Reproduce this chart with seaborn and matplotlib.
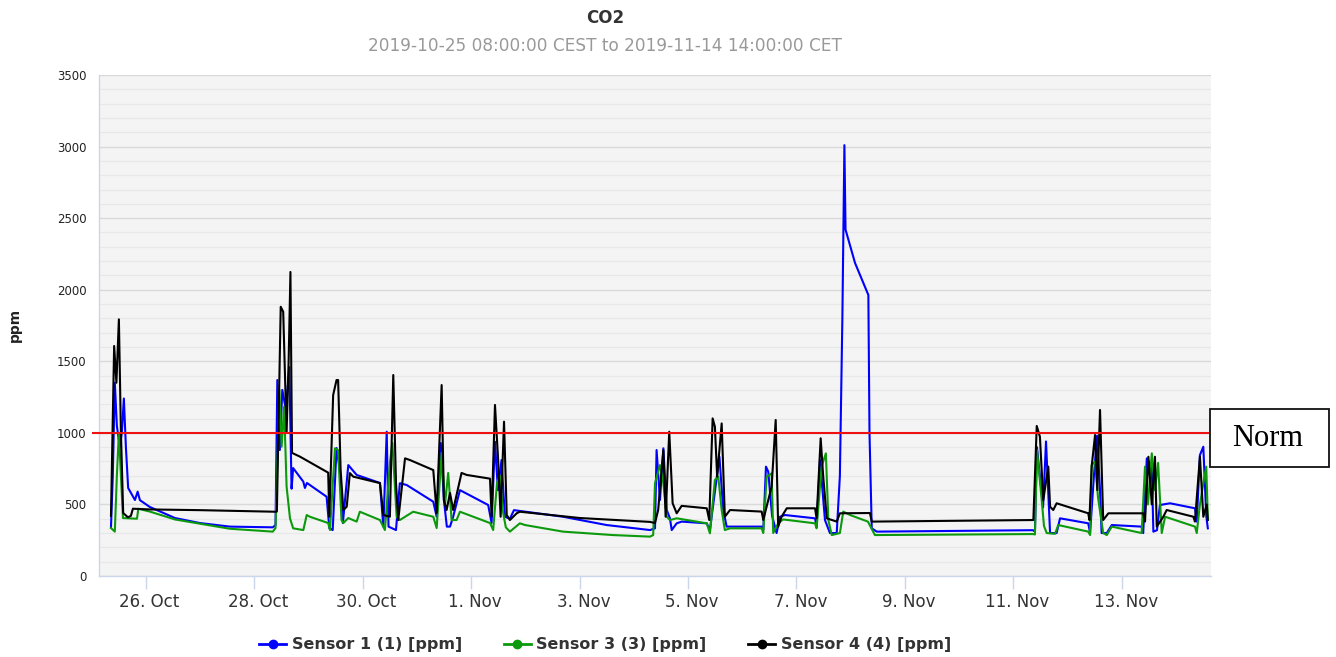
import pandas as pd
import matplotlib
matplotlib.use("Agg")
import matplotlib.pyplot as plt
import matplotlib.dates as mdates
import matplotlib.transforms as mtransforms
from matplotlib.lines import Line2D
from matplotlib.patches import Rectangle
from matplotlib.ticker import MultipleLocator
import seaborn as sns

# Zeitraum der Messung
START = pd.Timestamp("2019-10-25 08:00")
NORM = 1000

# Sensor 1 (blau): Stunden seit Start, ppm
s1_hours = [0.7, 1.5, 2.4, 3.3, 4.6, 5.5, 6.4, 7.3, 8.3, 11.3,
            12.5, 13.5, 17.9, 29.0, 40.0, 53.3, 72.3, 73.5, 74.3, 75.4,
            76.5, 78.1, 79.6, 80.6, 81.3, 85.8, 86.5, 87.4, 96.1, 97.3,
            98.8, 100.5, 102.0, 103.3, 105.7, 109.4, 119.7, 121.2, 122.7, 123.5,
            126.8, 128.5, 131.5, 143.3, 144.8, 146.6, 148.0, 149.3, 150.7, 152.1,
            155.1, 167.6, 169.1, 170.6, 171.9, 173.5, 175.0, 177.2, 179.0, 200.7,
            220.0, 239.2, 241.4, 242.1, 243.6, 245.1, 246.6, 248.0, 248.8, 251.0,
            253.2, 264.3, 265.7, 268.4, 269.9, 271.6, 273.1, 288.6, 289.3, 290.5,
            291.5, 293.2, 295.2, 296.7, 298.9, 312.2, 312.9, 314.4, 316.6, 318.8,
            321.8, 323.2, 324.3, 325.2, 325.7, 329.9, 332.1, 335.8, 336.3, 337.3,
            339.5, 408.6, 409.5, 410.4, 411.7, 413.1, 414.4, 416.2, 419.1, 420.6,
            433.1, 433.9, 435.6, 437.0, 438.3, 439.0, 441.3, 443.5, 456.7, 457.4,
            459.0, 461.2, 461.9, 463.5, 464.8, 469.3, 480.3, 481.1, 482.5, 484.0,
            485.3, 486.0]
s1_ppm = [340, 700, 1350, 1050, 900, 1000, 1240, 900, 615, 531,
          589, 530, 482, 405, 370, 345, 340, 356, 1369, 880,
          1300, 1160, 1460, 610, 754, 659, 615, 650, 554, 335,
          321, 894, 740, 370, 775, 706, 650, 345, 1008, 345,
          321, 648, 636, 519, 414, 929, 531, 345, 345, 414,
          600, 496, 370, 938, 600, 810, 414, 400, 460, 414,
          356, 321, 333, 880, 531, 892, 461, 403, 321, 368,
          380, 368, 321, 650, 833, 461, 345, 345, 321, 764,
          729, 420, 300, 414, 426, 403, 345, 810, 391, 300,
          300, 700, 1800, 3010, 2420, 2187, 2103, 1963, 1000, 333,
          310, 320, 310, 900, 700, 480, 940, 300, 300, 403,
          368, 300, 700, 980, 600, 300, 300, 356, 345, 300,
          822, 764, 310, 320, 496, 508, 473, 380, 845, 903,
          420, 333]

# Sensor 3 (gruen)
s3_hours = [0.7, 2.4, 3.3, 4.2, 5.1, 6.0, 12.2, 12.8, 17.9, 29.0,
            53.3, 72.3, 73.5, 75.2, 76.2, 77.3, 78.4, 79.9, 81.3, 85.8,
            87.3, 88.7, 96.8, 97.6, 99.8, 101.2, 102.7, 103.5, 105.7, 109.4,
            110.8, 119.7, 121.9, 124.1, 125.2, 127.1, 128.5, 134.4, 143.3, 144.8,
            147.0, 148.5, 149.9, 151.4, 153.6, 155.1, 168.4, 169.8, 171.5, 172.8,
            174.1, 175.4, 177.2, 181.6, 183.9, 200.7, 222.8, 239.2, 240.6, 241.4,
            243.6, 245.1, 246.6, 248.0, 251.0, 264.3, 265.7, 267.9, 269.4, 270.9,
            272.3, 274.6, 288.6, 289.3, 290.8, 293.0, 293.7, 295.9, 298.1, 312.2,
            312.9, 315.1, 317.0, 318.1, 319.6, 323.2, 324.7, 327.7, 335.6, 338.7,
            408.6, 409.5, 410.4, 412.5, 413.5, 414.7, 418.4, 419.8, 433.1, 433.9,
            434.6, 436.1, 437.4, 439.7, 441.3, 443.5, 456.7, 458.2, 459.5, 461.2,
            462.6, 464.0, 465.6, 467.1, 480.3, 481.1, 482.5, 484.0, 485.3, 486.0]
s3_ppm = [335, 310, 700, 1000, 700, 405, 400, 470, 450, 395,
          330, 310, 335, 1300, 903, 1183, 624, 403, 333, 321,
          426, 414, 370, 321, 892, 880, 391, 370, 405, 380,
          449, 391, 321, 789, 929, 414, 391, 449, 414, 335,
          859, 500, 720, 391, 391, 449, 370, 321, 650, 700,
          450, 340, 310, 368, 356, 310, 286, 275, 286, 648,
          775, 648, 414, 391, 403, 368, 298, 671, 694, 461,
          321, 333, 333, 300, 694, 717, 300, 368, 395, 368,
          333, 764, 857, 391, 286, 300, 450, 426, 380, 286,
          293, 290, 880, 531, 350, 300, 295, 356, 310, 286,
          775, 800, 550, 300, 286, 345, 300, 764, 500, 857,
          600, 790, 300, 414, 345, 300, 500, 648, 764, 400]

# Sensor 4 (schwarz)
s4_hours = [0.7, 2.1, 3.1, 4.2, 5.1, 6.1, 8.2, 9.5, 10.4, 17.9,
            40.0, 73.2, 74.1, 75.8, 76.9, 78.4, 79.3, 80.1, 80.8, 84.3,
            96.8, 97.3, 99.0, 100.5, 101.2, 102.3, 103.5, 105.0, 106.4, 107.9,
            119.7, 121.2, 124.1, 125.6, 126.8, 127.8, 130.8, 133.0, 143.3, 144.8,
            147.0, 148.0, 149.2, 150.7, 152.1, 155.8, 158.1, 168.4, 169.1, 170.6,
            172.0, 173.1, 174.6, 175.8, 177.2, 180.2, 181.6, 208.2, 239.2, 241.4,
            242.8, 245.1, 246.1, 247.7, 249.2, 251.0, 253.2, 264.3, 265.4, 266.9,
            267.9, 268.9, 270.9, 272.3, 274.6, 288.6, 289.3, 293.0, 294.8, 295.9,
            297.4, 299.7, 312.2, 312.9, 314.7, 315.8, 317.4, 321.8, 323.2, 336.5,
            337.3, 408.8, 410.3, 411.7, 413.2, 415.4, 416.2, 417.6, 419.1, 433.1,
            433.6, 434.6, 436.1, 437.1, 438.3, 439.7, 442.0, 457.4, 458.2, 459.7,
            461.2, 462.6, 463.4, 466.3, 467.8, 479.6, 480.3, 482.5, 484.0, 485.5,
            486.0]
s4_ppm = [420, 1607, 1350, 1793, 1000, 440, 410, 420, 470, 465,
          460, 449, 450, 1881, 1846, 1000, 1500, 2124, 860, 834,
          722, 414, 1264, 1369, 1369, 740, 461, 484, 719, 694,
          649, 426, 414, 1404, 650, 391, 822, 810, 740, 440,
          1334, 531, 461, 580, 461, 720, 706, 680, 414, 1195,
          810, 414, 1078, 426, 391, 438, 449, 405, 378, 370,
          461, 880, 414, 1008, 508, 438, 490, 473, 391, 1101,
          1043, 694, 1066, 414, 461, 450, 391, 624, 1090, 345,
          414, 473, 473, 403, 962, 700, 403, 380, 438, 440,
          380, 391, 1048, 973, 531, 764, 484, 461, 508, 438,
          391, 764, 985, 600, 1160, 391, 438, 438, 380, 833,
          500, 833, 345, 414, 461, 414, 380, 833, 414, 500,
          391]

sensor_names = ["Sensor 1 (1) [ppm]", "Sensor 3 (3) [ppm]", "Sensor 4 (4) [ppm]"]
sensor_colors = ["#0000ff", "#0c9a0c", "#000000"]
tick_days = ["2019-10-26", "2019-10-28", "2019-10-30", "2019-11-01", "2019-11-03",
             "2019-11-05", "2019-11-07", "2019-11-09", "2019-11-11", "2019-11-13"]

# lange Tabelle fuer seaborn
frames = []
for name, hours, ppm in zip(sensor_names, [s1_hours, s3_hours, s4_hours],
                            [s1_ppm, s3_ppm, s4_ppm]):
    frames.append(pd.DataFrame({"time": START + pd.to_timedelta(hours, unit="h"),
                                "ppm": ppm, "sensor": name}))
df = pd.concat(frames, ignore_index=True)

plt.rcParams["font.family"] = ["DejaVu Sans"]
fig = plt.figure(figsize=(13.36, 6.57), dpi=100)
ax = fig.add_axes([99 / 1336, 1 - 576 / 657, 1112 / 1336, 501 / 657])
ax.set_facecolor("#f4f4f4")

sns.lineplot(data=df, x="time", y="ppm", hue="sensor", hue_order=sensor_names,
             palette=dict(zip(sensor_names, sensor_colors)), estimator=None,
             sort=False, linewidth=1.5, legend=False, ax=ax)

ax.set_ylim(0, 3500)
ax.set_xlim(START - pd.Timedelta(hours=4.6), START + pd.Timedelta(hours=487.4))
ax.yaxis.set_major_locator(MultipleLocator(500))
ax.yaxis.set_minor_locator(MultipleLocator(100))
ax.grid(which="major", axis="y", color="#d9d9d9", lw=1)
ax.grid(which="minor", axis="y", color="#e8e8e8", lw=0.9)
ax.grid(False, axis="x")
ax.set_axisbelow(True)

ax.set_xticks(pd.to_datetime(tick_days))
ax.xaxis.set_major_formatter(mdates.DateFormatter("%-d. %b"))
ax.tick_params(axis="x", length=9, width=1, color="#ccd6eb", pad=3,
               labelsize=12, labelcolor="#333333")
ax.tick_params(axis="y", which="both", length=0, pad=9, labelsize=8.5,
               labelcolor="#222222")
shift = mtransforms.ScaledTranslation(4 / 100, 0, fig.dpi_scale_trans)
for lab in ax.get_xticklabels():
    lab.set_transform(lab.get_transform() + shift)
for s in ["top", "right"]:
    ax.spines[s].set_visible(False)
for s in ["left", "bottom"]:
    ax.spines[s].set_color("#ccd6eb")
    ax.spines[s].set_linewidth(1)
ax.set_xlabel("")
ax.set_ylabel("")

# Grenzwert
ax.plot([-0.0054, 1.0], [NORM, NORM], color="#ee1111", lw=1.5,
        transform=ax.get_yaxis_transform(), clip_on=False, zorder=5)

fig.text(15 / 1336, 1 - 325 / 657, "ppm", rotation=90, ha="center", va="center",
         fontsize=10, fontweight="bold", color="#222222")
fig.text(605 / 1336, 1 - 18 / 657, "CO2", ha="center", va="center",
         fontsize=12, fontweight="bold", color="#333333")
fig.text(605 / 1336, 1 - 46 / 657,
         "2019-10-25 08:00:00 CEST to 2019-11-14 14:00:00 CET",
         ha="center", va="center", fontsize=12.2, color="#999999")

# Norm-Kasten rechts
fig.patches.append(Rectangle((1210 / 1336, 1 - 467 / 657), 119 / 1336, 58 / 657,
                             transform=fig.transFigure, fill=True, facecolor="white",
                             edgecolor="#111111", lw=1.3))
fig.text(1268 / 1336, 1 - 439 / 657, "Norm", ha="center", va="center",
         fontsize=22, family="Liberation Serif", color="black")

handles = [Line2D([0], [0], color=c, lw=2, marker="o", markersize=6) for c in sensor_colors]
leg = fig.legend(handles, sensor_names, loc="center", bbox_to_anchor=(605 / 1336, 12 / 657),
                 ncol=3, frameon=False, handlelength=1.7, columnspacing=2.6,
                 handletextpad=0.35, prop={"weight": "bold", "size": 11.5})
for t in leg.get_texts():
    t.set_color("#333333")

fig.savefig("out.png", dpi=100)
